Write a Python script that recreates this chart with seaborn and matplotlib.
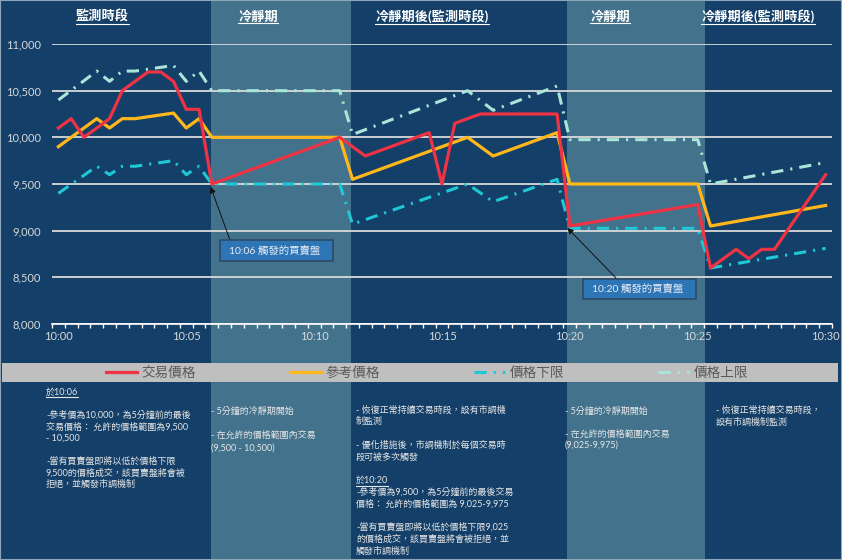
import matplotlib
matplotlib.use("Agg")
import matplotlib.pyplot as plt
import seaborn as sns
from matplotlib.patches import Rectangle
from matplotlib.lines import Line2D
from matplotlib.transforms import blended_transform_factory

# ---- data (minutes after 10:00) ----
trade_t = [0, 0.5, 1.0, 1.5, 2.0, 2.5, 3.0, 3.5, 4.0, 4.5, 5.0, 5.5, 6.0,
           11.0, 12.0, 14.5, 15.0, 15.5, 16.5, 19.5, 20.0,
           25.0, 25.5, 26.5, 27.0, 27.5, 28.0, 30.0]
trade_v = [10100, 10200, 10000, 10100, 10200, 10500, 10600, 10700, 10700, 10600, 10300, 10300, 9500,
           10000, 9800, 10050, 9500, 10150, 10250, 10250, 9050,
           9280, 8600, 8800, 8700, 8800, 8800, 9600]

band_t = [0, 1.5, 2.0, 2.5, 3.0, 4.0, 4.5, 5.0, 5.5, 6.0, 11.0, 11.5,
          16.0, 17.0, 19.5, 20.0, 25.0, 25.5, 30.0]
ref_v = [9900, 10200, 10100, 10200, 10200, 10240, 10260, 10100, 10200, 10000, 10000, 9550,
         10000, 9800, 10050, 9500, 9500, 9050, 9270]
upper_v = [10400, 10710, 10600, 10710, 10710, 10750, 10770, 10600, 10710, 10500, 10500, 10030,
           10500, 10290, 10550, 9975, 9975, 9500, 9730]
lower_v = [9400, 9690, 9600, 9690, 9690, 9730, 9750, 9600, 9690, 9500, 9500, 9070,
           9500, 9310, 9550, 9025, 9025, 8600, 8810]

tick_pos = [0, 5, 10, 15, 20, 25, 30]
tick_lab = ["10:00", "10:05", "10:10", "10:15", "10:20", "10:25", "10:30"]
y_ticks = [8000, 8500, 9000, 9500, 10000, 10500, 11000]
cooling = [(5.98, 11.45), (19.88, 25.3)]

BG = "#133F68"
SHADE = "#43738C"
RED = "#EE3344"
YEL = "#FFB71B"
CYAN = "#1FC8D6"
MINT = "#A9E5D8"
GRID = "#D9D9D9"
TXT = "#E6E6E6"

W, H = 842, 560
def fx(px):
    return px / W
def fy(py):
    return 1 - py / H

plt.rcParams['font.family'] = ['Lato', 'Noto Sans CJK TC', 'DejaVu Sans']

fig = plt.figure(figsize=(8.42, 5.6), dpi=100, facecolor=BG)
ax = fig.add_axes([fx(52), fy(324), 780 / W, 280 / H])
ax.set_facecolor('none')

dashdot = (0, (4, 2.3, 0.7, 2.3))
sns.lineplot(x=band_t, y=upper_v, ax=ax, color=MINT, lw=2.2, linestyle=dashdot, label='價格上限')
sns.lineplot(x=band_t, y=lower_v, ax=ax, color=CYAN, lw=2.2, linestyle=dashdot, label='價格下限')
sns.lineplot(x=band_t, y=ref_v, ax=ax, color=YEL, lw=2.3, label='參考價格')
sns.lineplot(x=trade_t, y=trade_v, ax=ax, color=RED, lw=2.3, label='交易價格')

ax.set_xlim(-0.234, 30.234)
ax.set_ylim(8000, 11000)
ax.set_yticks(y_ticks)
ax.set_yticklabels([f"{v:,}" for v in y_ticks])
ax.set_xticks(tick_pos)
ax.set_xticklabels(tick_lab)
ax.set_xticks([-0.25 + 0.5 * k for k in range(62)], minor=True)
ax.tick_params(axis='x', which='major', length=0, pad=5, labelsize=8, labelcolor=GRID)
ax.tick_params(axis='x', which='minor', length=3, width=1, color='white', direction='out')
ax.tick_params(axis='y', length=0, pad=8, labelsize=8, labelcolor=GRID)
ax.set_xlabel('')
ax.set_ylabel('')
for s in ['top', 'left', 'right']:
    ax.spines[s].set_visible(False)
ax.spines['bottom'].set_color('white')
ax.spines['bottom'].set_linewidth(1.2)
ax.grid(axis='y', color=GRID, lw=1.3)
ax.set_axisbelow(True)

# cooling period shading across full figure height
tr = blended_transform_factory(ax.transData, fig.transFigure)
for a, b in cooling:
    fig.add_artist(Rectangle((a, 0), b - a, 1, transform=tr, facecolor=SHADE,
                             edgecolor='none', zorder=-1))

# legend band
fig.add_artist(Rectangle((fx(2), fy(382)), fx(838) - fx(2), 19 / H, transform=fig.transFigure,
                         facecolor="#BFBFBF", edgecolor='none', zorder=1))
h, l = ax.get_legend_handles_labels()
ax.get_legend().remove()
hd = dict(zip(l, h))
order = ['交易價格', '參考價格', '價格下限', '價格上限']
leg = fig.legend([hd[k] for k in order], order, loc='center',
                 bbox_to_anchor=(fx(106), fy(382), 642 / W, 19 / H), mode='expand', ncol=4,
                 frameon=False, borderpad=0, borderaxespad=0, handlelength=2.3,
                 handletextpad=0.3, prop={'size': 9.8}, labelcolor='#595959')
leg.set_zorder(3)

# section titles
underlined = []
for txt, cx in [("監測時段", 102), ("冷靜期", 258), ("冷靜期後(監測時段)", 432),
                ("冷靜期", 610), ("冷靜期後(監測時段)", 758)]:
    underlined.append(fig.text(fx(cx), fy(16.5), txt, ha='center', va='center', color='white',
                               fontsize=9.5, fontweight='bold'))

# annotation boxes + arrows
for (x0, y0, x1, y1), label, tail, tip in [
        ((220, 240, 333, 261), "10:06 觸發的買賣盤", (230, 240), (5.95, 9470)),
        ((583, 279, 696, 299), "10:20 觸發的買賣盤", (616, 278), (19.9, 9030))]:
    fig.add_artist(Rectangle((fx(x0), fy(y1)), (x1 - x0) / W, (y1 - y0) / H, transform=fig.transFigure,
                             facecolor="#2E75B6", edgecolor="#2E4A66", lw=1.2, zorder=2))
    fig.text(fx(x0 + 9), fy((y0 + y1) / 2), label, ha='left', va='center', color="#E6EEF6",
             fontsize=7.5, zorder=3)
    ax.annotate('', xy=tip, xycoords='data', xytext=(fx(tail[0]), fy(tail[1])),
                textcoords='figure fraction',
                arrowprops=dict(arrowstyle='-|>', color='#111111', lw=0.7,
                                shrinkA=0, shrinkB=0, mutation_scale=9), zorder=6)

# explanatory notes
notes = [
    (46, 392, 11.5, ["於10:06", "", "-參考價為10,000，為5分鐘前的最後", "交易價格： 允許的價格範圍為9,500",
                     "- 10,500", "", "-當有買賣盤即將以低於價格下限", "9,500的價格成交，該買賣盤將會被",
                     "拒絕，並觸發市調機制"]),
    (211, 411, 12.3, ["- 5分鐘的冷靜期開始", "", "- 在允許的價格範圍內交易", "(9,500 - 10,500)"]),
    (356, 410, 11.75, ["- 恢復正常持續交易時段，設有市調機", "制監測", "",
                       "- 優化措施後，市調機制於每個交易時", "段可被多次觸發", "",
                       "於10:20", "-參考價為9,500，為5分鐘前的最後交易", "價格： 允許的價格範圍為 9,025-9,975", "",
                       "-當有買賣盤即將以低於價格下限9,025", "的價格成交，該買賣盤將會被拒絕，並", "觸發市調機制"]),
    (565, 411, 11.5, ["- 5分鐘的冷靜期開始", "", "- 在允許的價格範圍內交易", "(9,025-9,975)"]),
    (716, 410, 12, ["- 恢復正常持續交易時段，", "設有市調機制監測"]),
]
for x, y, step, lines in notes:
    for i, line in enumerate(lines):
        if not line:
            continue
        t = fig.text(fx(x), fy(y + i * step), line, ha='left', va='center', color=TXT, fontsize=6.5)
        if line.startswith("於10:"):
            underlined.append(t)

# underline titles and dates
fig.canvas.draw()
r = fig.canvas.get_renderer()
inv = fig.transFigure.inverted()
for t in underlined:
    bb = t.get_window_extent(r)
    (ax0, ay0), (ax1, _) = inv.transform([(bb.x0, bb.y0 - 0.5), (bb.x1, bb.y0)])
    fig.add_artist(Line2D([ax0, ax1], [ay0, ay0], transform=fig.transFigure,
                          color=t.get_color(), lw=0.8, zorder=3))

fig.add_artist(Rectangle((0, 0), 1, 1, transform=fig.transFigure, fill=False,
                         edgecolor="#8FA5BA", lw=1.5, zorder=10))

fig.savefig('out.png', dpi=100, facecolor=BG)
